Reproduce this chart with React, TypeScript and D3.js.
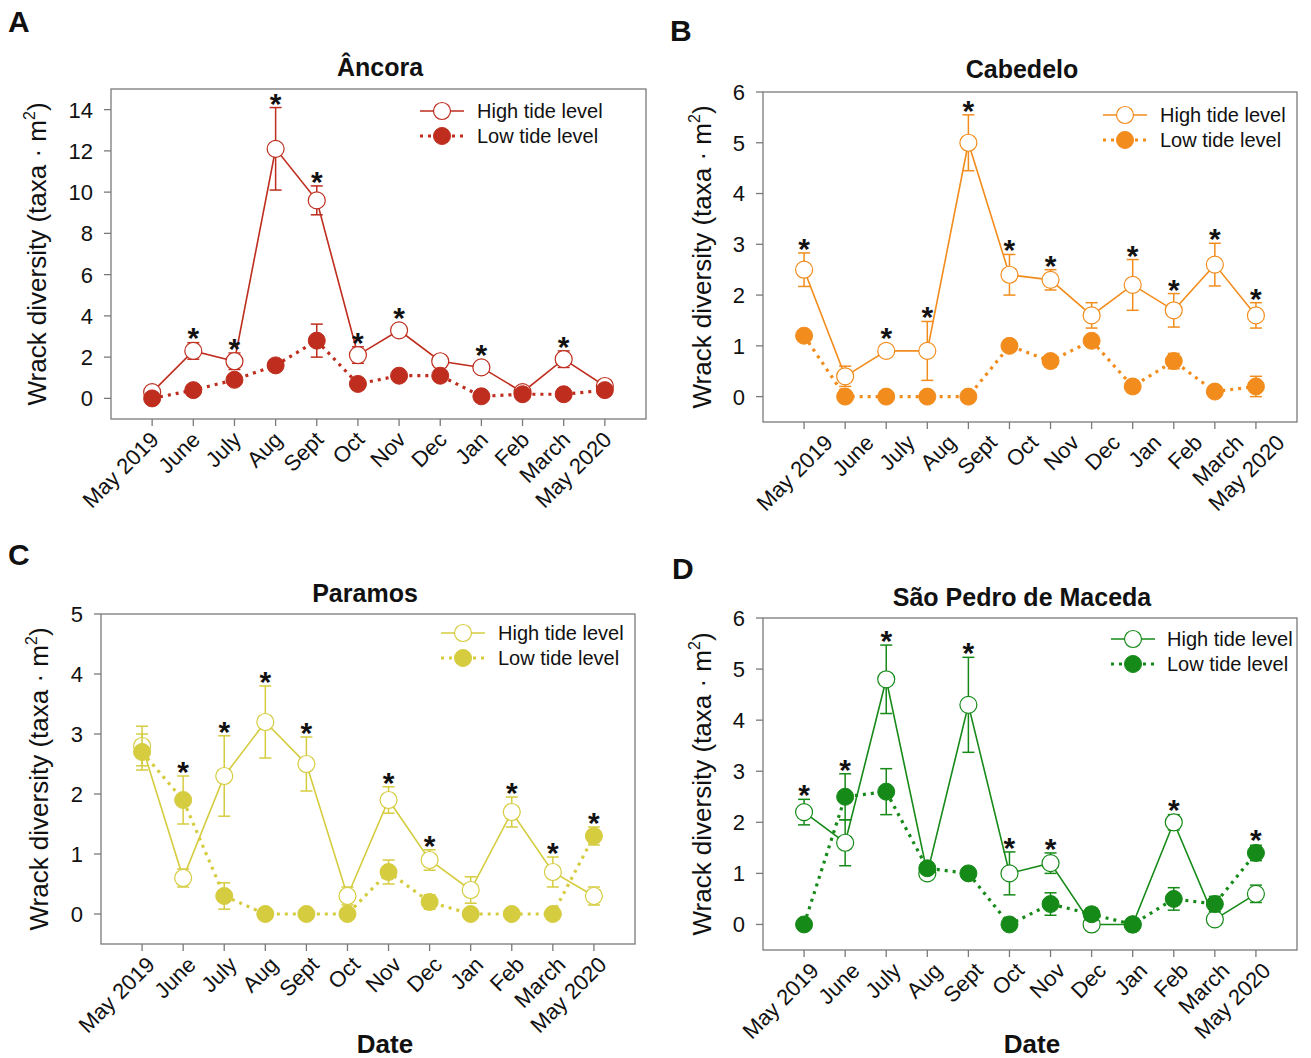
import React from "react";
import * as d3 from "d3";

const months = ["May 2019", "June", "July", "Aug", "Sept", "Oct", "Nov", "Dec", "Jan", "Feb", "March", "May 2020"];

// A — Âncora
const ancoraHigh = [0.3, 2.3, 1.8, 12.1, 9.6, 2.1, 3.3, 1.8, 1.5, 0.3, 1.9, 0.6];
const ancoraHighSE = [0.1, 0.4, 0.4, 2.0, 0.7, 0.4, 0.15, 0.1, 0.2, 0.1, 0.4, 0.1];
const ancoraLow = [0.0, 0.4, 0.9, 1.6, 2.8, 0.7, 1.1, 1.1, 0.1, 0.2, 0.2, 0.4];
const ancoraLowSE = [0.05, 0.1, 0.2, 0.1, 0.8, 0.15, 0.1, 0.1, 0.05, 0.1, 0.05, 0.1];
const ancoraSig = [false, true, true, true, true, true, true, false, true, false, true, false];
const ancoraTicks = [0, 2, 4, 6, 8, 10, 12, 14];

// B — Cabedelo
const cabedeloHigh = [2.5, 0.4, 0.9, 0.9, 5.0, 2.4, 2.3, 1.6, 2.2, 1.7, 2.6, 1.6];
const cabedeloHighSE = [0.33, 0.2, 0.05, 0.58, 0.55, 0.4, 0.2, 0.25, 0.5, 0.33, 0.42, 0.25];
const cabedeloLow = [1.2, 0.0, 0.0, 0.0, 0.0, 1.0, 0.7, 1.1, 0.2, 0.7, 0.1, 0.2];
const cabedeloLowSE = [0.1, 0.05, 0.03, 0.03, 0.03, 0.08, 0.12, 0.1, 0.12, 0.15, 0.05, 0.2];
const cabedeloSig = [true, false, true, true, true, true, true, false, true, true, true, true];
const cabedeloTicks = [0, 1, 2, 3, 4, 5, 6];

// C — Paramos
const paramosHigh = [2.8, 0.6, 2.3, 3.2, 2.5, 0.3, 1.9, 0.9, 0.4, 1.7, 0.7, 0.3];
const paramosHighSE = [0.33, 0.15, 0.67, 0.6, 0.45, 0.15, 0.22, 0.17, 0.22, 0.25, 0.25, 0.15];
const paramosLow = [2.7, 1.9, 0.3, 0.0, 0.0, 0.0, 0.7, 0.2, 0.0, 0.0, 0.0, 1.3];
const paramosLowSE = [0.3, 0.4, 0.22, 0.03, 0.03, 0.03, 0.2, 0.12, 0.03, 0.03, 0.03, 0.15];
const paramosSig = [false, true, true, true, true, false, true, true, false, true, true, true];
const paramosTicks = [0, 1, 2, 3, 4, 5];

// D — São Pedro de Maceda
const macedaHigh = [2.2, 1.6, 4.8, 1.0, 4.3, 1.0, 1.2, 0.0, 0.0, 2.0, 0.1, 0.6];
const macedaHighSE = [0.25, 0.45, 0.67, 0.12, 0.93, 0.42, 0.2, 0.03, 0.03, 0.15, 0.05, 0.17];
const macedaLow = [0.0, 2.5, 2.6, 1.1, 1.0, 0.0, 0.4, 0.2, 0.0, 0.5, 0.4, 1.4];
const macedaLowSE = [0.03, 0.45, 0.45, 0.05, 0.05, 0.03, 0.22, 0.12, 0.03, 0.22, 0.15, 0.15];
const macedaSig = [true, true, true, false, true, true, true, false, false, true, false, true];
const macedaTicks = [0, 1, 2, 3, 4, 5, 6];

const FONT = "Arial, 'Liberation Sans', sans-serif";

type PanelCfg = {
  letter: string; title: string; color: string;
  high: number[]; highSE: number[]; low: number[]; lowSE: number[]; sig: boolean[];
  yDomain: [number, number]; yTicks: number[];
  l: number; r: number; t: number; b: number;
  letterX: number; letterY: number; titleX: number; titleY: number;
  yTitleX: number; legX: number; legY: number; legTextX: number;
  date: boolean; dateX: number; labDx: number;
};

const panels: PanelCfg[] = [
  {
    letter: "A", title: "Âncora", color: "#BE2D1E",
    high: ancoraHigh, highSE: ancoraHighSE, low: ancoraLow, lowSE: ancoraLowSE, sig: ancoraSig,
    yDomain: [-1, 15], yTicks: ancoraTicks,
    l: 111, r: 646, t: 89, b: 419,
    letterX: 8, letterY: 32, titleX: 380, titleY: 76,
    yTitleX: 46, legX: 442, legY: 111, legTextX: 477,
    date: false, dateX: 0, labDx: 8,
  },
  {
    letter: "B", title: "Cabedelo", color: "#F28C1C",
    high: cabedeloHigh, highSE: cabedeloHighSE, low: cabedeloLow, lowSE: cabedeloLowSE, sig: cabedeloSig,
    yDomain: [-0.5, 6], yTicks: cabedeloTicks,
    l: 763, r: 1297, t: 92, b: 422,
    letterX: 670, letterY: 41, titleX: 1022, titleY: 78,
    yTitleX: 711, legX: 1125, legY: 115, legTextX: 1160,
    date: false, dateX: 0, labDx: 30,
  },
  {
    letter: "C", title: "Paramos", color: "#D5CC3F",
    high: paramosHigh, highSE: paramosHighSE, low: paramosLow, lowSE: paramosLowSE, sig: paramosSig,
    yDomain: [-0.5, 5], yTicks: paramosTicks,
    l: 101, r: 635, t: 614, b: 944,
    letterX: 8, letterY: 565, titleX: 365, titleY: 602,
    yTitleX: 48, legX: 463, legY: 633, legTextX: 498,
    date: true, dateX: 385, labDx: 14,
  },
  {
    letter: "D", title: "São Pedro de Maceda", color: "#168A18",
    high: macedaHigh, highSE: macedaHighSE, low: macedaLow, lowSE: macedaLowSE, sig: macedaSig,
    yDomain: [-0.5, 6], yTicks: macedaTicks,
    l: 763, r: 1297, t: 618, b: 950,
    letterX: 672, letterY: 579, titleX: 1022, titleY: 606,
    yTitleX: 711, legX: 1133, legY: 639, legTextX: 1167,
    date: true, dateX: 1032, labDx: 16,
  },
];

const R = 8.5;

function ErrorBars({ vals, se, x, y, color }: any) {
  return (
    <g stroke={color} strokeWidth={1.5} fill="none">
      {vals.map((v: number, i: number) => {
        const cx = x(i);
        const y1 = y(v - se[i]);
        const y2 = y(v + se[i]);
        return (
          <g key={i}>
            <line x1={cx} x2={cx} y1={y1} y2={y2} />
            <line x1={cx - 6} x2={cx + 6} y1={y1} y2={y1} />
            <line x1={cx - 6} x2={cx + 6} y1={y2} y2={y2} />
          </g>
        );
      })}
    </g>
  );
}

function Panel({ p }: { p: PanelCfg }) {
  const idx = d3.range(months.length);
  const x = d3.scaleLinear().domain([-1, 12]).range([p.l, p.r]);
  const y = d3.scaleLinear().domain(p.yDomain).range([p.b, p.t]);
  const highPath = d3.line<number>().x((i) => x(i)).y((i) => y(p.high[i]))(idx) || "";
  const lowPath = d3.line<number>().x((i) => x(i)).y((i) => y(p.low[i]))(idx) || "";
  const cy = (p.t + p.b) / 2;
  return (
    <g fontFamily={FONT}>
      <text x={p.letterX} y={p.letterY} fontSize={30} fontWeight="bold" fill="#111">{p.letter}</text>
      <text x={p.titleX} y={p.titleY} fontSize={25} fontWeight="bold" textAnchor="middle" fill="#111">{p.title}</text>
      {/* frame */}
      <rect x={p.l} y={p.t} width={p.r - p.l} height={p.b - p.t} fill="none" stroke="#7a7a7a" strokeWidth={1.3} />
      {/* y ticks */}
      {p.yTicks.map((t) => (
        <g key={"y" + t}>
          <line x1={p.l - 7} x2={p.l} y1={y(t)} y2={y(t)} stroke="#7a7a7a" strokeWidth={1.3} />
          <text x={p.l - 18} y={y(t)} dy="0.36em" fontSize={22} textAnchor="end" fill="#111">{t}</text>
        </g>
      ))}
      {/* x ticks */}
      {idx.map((i) => (
        <g key={"x" + i}>
          <line x1={x(i)} x2={x(i)} y1={p.b} y2={p.b + 7} stroke="#7a7a7a" strokeWidth={1.3} />
          <text
            transform={`translate(${x(i) + p.labDx},${p.b + 22}) rotate(-45)`}
            fontSize={22}
            textAnchor="end"
            fill="#111"
          >
            {months[i]}
          </text>
        </g>
      ))}
      {/* y title */}
      <text transform={`translate(${p.yTitleX},${cy}) rotate(-90)`} fontSize={26} textAnchor="middle" fill="#111">
        Wrack diversity (taxa · m<tspan fontSize={16} dy={-11}>2</tspan><tspan dy={11}>)</tspan>
      </text>
      {p.date && (
        <text x={p.dateX} y={1053} fontSize={26} fontWeight="bold" textAnchor="middle" fill="#111">Date</text>
      )}
      {/* series */}
      <path d={highPath} fill="none" stroke={p.color} strokeWidth={1.6} />
      <ErrorBars vals={p.high} se={p.highSE} x={x} y={y} color={p.color} />
      {idx.map((i) => (
        <circle key={"h" + i} cx={x(i)} cy={y(p.high[i])} r={R} fill="#fff" stroke={p.color} strokeWidth={1.2} />
      ))}
      <path d={lowPath} fill="none" stroke={p.color} strokeWidth={3.2} strokeDasharray="3 5" />
      <ErrorBars vals={p.low} se={p.lowSE} x={x} y={y} color={p.color} />
      {idx.map((i) => (
        <circle key={"l" + i} cx={x(i)} cy={y(p.low[i])} r={R} fill={p.color} stroke={p.color} strokeWidth={1} />
      ))}
      {/* significance */}
      {idx.filter((i) => p.sig[i]).map((i) => {
        const top = Math.min(
          y(p.high[i] + p.highSE[i]), y(p.high[i]) - R,
          y(p.low[i] + p.lowSE[i]), y(p.low[i]) - R
        );
        return (
          <text key={"s" + i} x={x(i)} y={top + 6} fontSize={30} fontWeight="bold" textAnchor="middle" fill="#111">*</text>
        );
      })}
      {/* legend */}
      <g>
        <line x1={p.legX - 22} x2={p.legX + 22} y1={p.legY} y2={p.legY} stroke={p.color} strokeWidth={1.6} />
        <circle cx={p.legX} cy={p.legY} r={R} fill="#fff" stroke={p.color} strokeWidth={1.2} />
        <text x={p.legTextX} y={p.legY + 7} fontSize={20} fill="#111">High tide level</text>
        <line x1={p.legX - 22} x2={p.legX + 22} y1={p.legY + 25} y2={p.legY + 25} stroke={p.color} strokeWidth={3.2} strokeDasharray="3 5" />
        <circle cx={p.legX} cy={p.legY + 25} r={R} fill={p.color} stroke={p.color} strokeWidth={1} />
        <text x={p.legTextX} y={p.legY + 32} fontSize={20} fill="#111">Low tide level</text>
      </g>
    </g>
  );
}

export default function App() {
  return (
    <svg
      width={1311}
      height={1058}
      style={{ position: "absolute", left: 0, top: 0, background: "#fff" }}
    >
      <rect width={1311} height={1058} fill="#fff" />
      {panels.map((p) => (
        <Panel key={p.letter} p={p} />
      ))}
    </svg>
  );
}
